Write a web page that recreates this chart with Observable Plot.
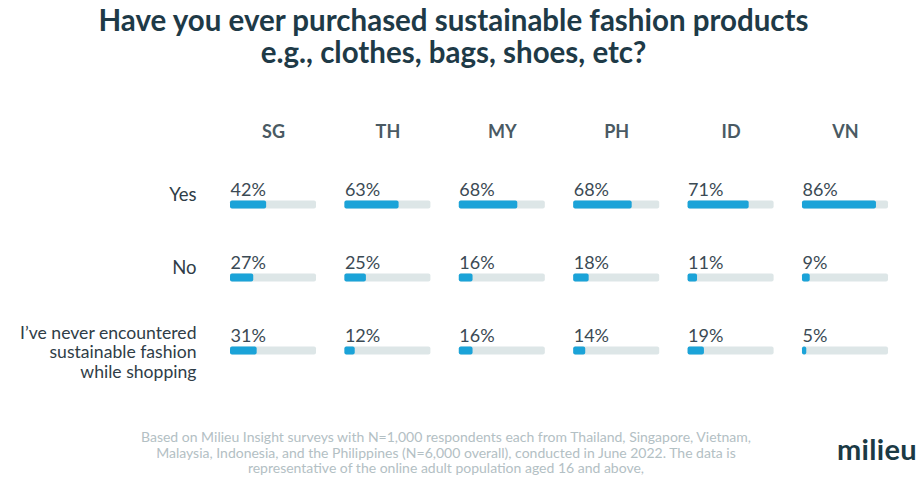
<!DOCTYPE html>
<html>
<head>
<meta charset="utf-8">
<script src="https://cdn.jsdelivr.net/npm/d3@7"></script>
<script src="https://cdn.jsdelivr.net/npm/@observablehq/plot@0.6"></script>
<style>
  html, body { margin: 0; padding: 0; background: #fff; }
  body { width: 919px; height: 477px; overflow: hidden; font-family: Lato, "Open Sans", sans-serif; }
  #title { height: 90px; box-sizing: border-box; padding-top: 4px; padding-right: 12px; text-align: center;
           font-family: Lato, sans-serif; font-weight: 700; font-size: 29.5px; line-height: 32px; color: #1e3a47; }
  #chart svg { display: block; font-family: Lato, sans-serif; }
  #footer { position: relative; height: 57px; }
  #note { position: absolute; left: 80px; width: 732px; top: 9px; text-align: center;
          font-family: Lato, sans-serif; font-size: 14px; line-height: 15.5px; color: #b3c0c4; white-space: nowrap; }
  #logo { position: absolute; left: 837px; top: 15px; font-family: Lato, sans-serif; font-weight: 700;
          font-size: 29px; line-height: 27px; color: #1b3a45; letter-spacing: 0.3px; }
</style>
</head>
<body>
<div id="title">Have you ever purchased sustainable fashion products<br>e.g., clothes, bags, shoes, etc?</div>
<div id="chart"></div>
<div id="footer">
  <div id="note">Based on Milieu Insight surveys with N=1,000 respondents each from Thailand, Singapore, Vietnam,<br>Malaysia, Indonesia, and the Philippines (N=6,000 overall), conducted in June 2022. The data is<br>representative of the online adult population aged 16 and above,</div>
  <div id="logo">milieu</div>
</div>
<script>
const countries = ["SG", "TH", "MY", "PH", "ID", "VN"];
const answers = ["Yes", "No", "I’ve never encountered\nsustainable fashion\nwhile shopping"];
const yesValues = [42, 63, 68, 68, 71, 86];
const noValues = [27, 25, 16, 18, 11, 9];
const neverValues = [31, 12, 16, 14, 19, 5];

const series = [yesValues, noValues, neverValues];
const data = [];
answers.forEach((a, i) => countries.forEach((c, j) => data.push({answer: a, country: c, value: series[i][j]})));

const chart = Plot.plot({
  width: 919,
  height: 330,
  marginLeft: 230,
  marginRight: 31,
  marginTop: 110.5,
  marginBottom: 65.5,
  x: {domain: [0, 100], axis: null},
  fx: {domain: countries, paddingInner: 0.248, paddingOuter: 0, round: false, axis: null},
  fy: {domain: answers, paddingInner: 65 / 73, paddingOuter: 0, round: false, axis: null},
  marks: [
    Plot.axisFx({anchor: "top", tickSize: 0, tickPadding: 63, fontSize: 18, fontWeight: 700, fill: "#4a5a63", label: null}),
    Plot.barX(data, {fx: "country", fy: "answer", x1: 0, x2: 100, fill: "#dde6e7", rx: 2}),
    Plot.barX(data, {fx: "country", fy: "answer", x1: 0, x2: "value", fill: "#1ba3d8", rx: 2}),
    Plot.text(data, {fx: "country", fy: "answer", x: 0, text: d => d.value + "%", textAnchor: "start", dy: -15, fontSize: 18, fill: "#3b4a54"}),
    Plot.text(answers.slice(0, 2), {fx: () => "SG", fy: d => d, text: d => d, frameAnchor: "left", dx: -34, dy: -9.5, textAnchor: "end", fontSize: 18.5, fill: "#2f3d47"}),
    Plot.text(answers.slice(2), {fx: () => "SG", fy: d => d, text: d => d, frameAnchor: "left", dx: -34, dy: 1, textAnchor: "end", fontSize: 17.6, lineHeight: 1.12, fill: "#2f3d47"})
  ]
});
document.getElementById("chart").appendChild(chart);
</script>
</body>
</html>
